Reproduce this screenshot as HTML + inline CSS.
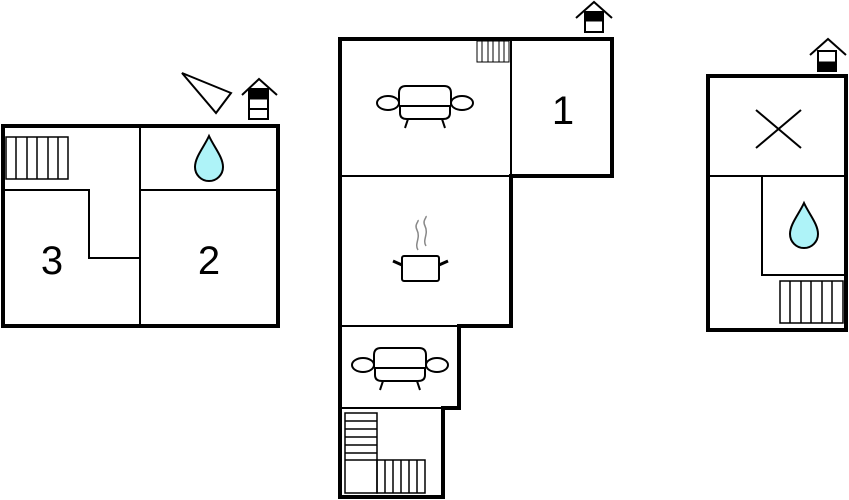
<!DOCTYPE html>
<html><head><meta charset="utf-8"><style>html,body{margin:0;padding:0;background:#fff}svg{display:block}</style></head>
<body>
<svg width="849" height="500" viewBox="0 0 849 500" xmlns="http://www.w3.org/2000/svg">
<defs>
<g id="sofa" fill="#fff" stroke="#000" stroke-width="2">
<path d="M-26,3 V-10 Q-26,-17 -19,-17 H19 Q26,-17 26,-10 V3"/>
<path d="M-25,3 V10 Q-25,16 -18,16 H18 Q25,16 25,10 V3 Z"/>
<line x1="-26" y1="3" x2="26" y2="3"/>
<ellipse cx="-37" cy="0" rx="11" ry="7"/>
<ellipse cx="37" cy="0" rx="11" ry="7"/>
<line x1="-17" y1="16" x2="-20" y2="25"/>
<line x1="17" y1="16" x2="20" y2="25"/>
</g>
<path id="drop" d="M0,-23 C-5,-12 -14,-2 -14,8 A14,14 0 0 0 14,8 C14,-2 5,-12 0,-23 Z" fill="#aef3f8" stroke="#000" stroke-width="2"/>
</defs>
<g fill="none" stroke="#000">
<rect x="3" y="126" width="275" height="200" stroke-width="4"/>
<line x1="140" y1="126" x2="140" y2="326" stroke-width="2"/>
<line x1="140" y1="190" x2="278" y2="190" stroke-width="2"/>
<polyline points="3,190 89,190 89,258 140,258" stroke-width="2"/>
<g stroke-width="1.5"><rect x="6" y="137" width="62" height="42"/>
<line x1="16" y1="137" x2="16" y2="179"/><line x1="27" y1="137" x2="27" y2="179"/><line x1="37" y1="137" x2="37" y2="179"/><line x1="48" y1="137" x2="48" y2="179"/><line x1="58" y1="137" x2="58" y2="179"/></g>
<polygon points="182,73 231,93 216,113" stroke-width="2"/>
<polyline points="242,95 259,79 277,95" stroke-width="2"/>
<rect x="249" y="89" width="19" height="30" fill="#fff" stroke-width="2"/>
<rect x="249" y="89" width="19" height="10" fill="#000"/>
<line x1="249" y1="109" x2="268" y2="109" stroke-width="2"/>

<polygon points="340,39 612,39 612,176 511,176 511,326 459,326 459,408 443,408 443,497 340,497" stroke-width="4"/>
<line x1="511" y1="39" x2="511" y2="176" stroke-width="2"/>
<line x1="340" y1="176" x2="511" y2="176" stroke-width="2"/>
<line x1="340" y1="326" x2="459" y2="326" stroke-width="2"/>
<line x1="340" y1="408" x2="443" y2="408" stroke-width="2"/>
<g stroke-width="1"><rect x="477" y="41" width="32" height="21"/>
<line x1="482" y1="41" x2="482" y2="62"/><line x1="488" y1="41" x2="488" y2="62"/><line x1="493" y1="41" x2="493" y2="62"/><line x1="499" y1="41" x2="499" y2="62"/><line x1="504" y1="41" x2="504" y2="62"/></g>
<g stroke-width="1.5"><rect x="345" y="413" width="32" height="80"/>
<line x1="345" y1="421" x2="377" y2="421"/><line x1="345" y1="429" x2="377" y2="429"/><line x1="345" y1="437" x2="377" y2="437"/><line x1="345" y1="445" x2="377" y2="445"/><line x1="345" y1="453" x2="377" y2="453"/><line x1="345" y1="460" x2="377" y2="460"/>
<rect x="377" y="460" width="48" height="33"/>
<line x1="385" y1="460" x2="385" y2="493"/><line x1="393" y1="460" x2="393" y2="493"/><line x1="401" y1="460" x2="401" y2="493"/><line x1="409" y1="460" x2="409" y2="493"/><line x1="417" y1="460" x2="417" y2="493"/></g>
<polyline points="576,18 594,2 612,18" stroke-width="2"/>
<rect x="585" y="12" width="18" height="20" fill="#fff" stroke-width="2"/>
<rect x="585" y="12" width="18" height="9" fill="#000"/>
<rect x="402" y="256" width="37" height="25" rx="2" stroke-width="2" fill="#fff"/>
<line x1="402" y1="265" x2="393" y2="261" stroke-width="3"/>
<line x1="439" y1="265" x2="448" y2="261" stroke-width="3"/>
<path d="M418,250 C414,244 421,238 417,230 C414,224 419,222 418,220" stroke="#888" stroke-width="1.5"/>
<path d="M426,246 C422,240 429,234 425,226 C422,220 427,218 426,216" stroke="#888" stroke-width="1.5"/>

<rect x="708" y="76" width="138" height="254" stroke-width="4"/>
<line x1="708" y1="176" x2="846" y2="176" stroke-width="2"/>
<polyline points="762,176 762,275 846,275" stroke-width="2"/>
<line x1="756" y1="110" x2="801" y2="148" stroke-width="2"/>
<line x1="801" y1="110" x2="756" y2="148" stroke-width="2"/>
<g stroke-width="1.5"><rect x="780" y="281" width="63" height="42"/>
<line x1="790" y1="281" x2="790" y2="323"/><line x1="801" y1="281" x2="801" y2="323"/><line x1="811" y1="281" x2="811" y2="323"/><line x1="822" y1="281" x2="822" y2="323"/><line x1="832" y1="281" x2="832" y2="323"/></g>
<polyline points="810,55 828,39 846,55" stroke-width="2"/>
<rect x="818" y="51" width="18" height="20" fill="#fff" stroke-width="2"/>
<rect x="818" y="62" width="18" height="9" fill="#000"/>
</g>
<use href="#sofa" x="425" y="103"/>
<use href="#sofa" x="400" y="365"/>
<use href="#drop" x="209" y="159"/>
<use href="#drop" x="804" y="226"/>
<g font-family="Liberation Sans, sans-serif" font-size="40" text-anchor="middle" fill="#000">
<text x="52" y="274">3</text>
<text x="209" y="274">2</text>
<text x="563" y="124">1</text>
</g>
</svg>
</body></html>
